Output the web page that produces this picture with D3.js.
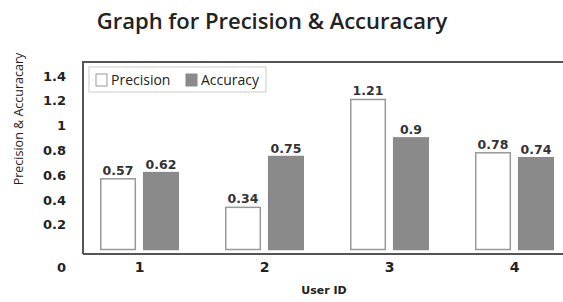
<!doctype html>
<meta charset="utf-8">
<title>Graph for Precision & Accuracary</title>
<script src="https://cdn.jsdelivr.net/npm/d3@7"></script>
<style>
  body { margin: 0; background: #fff; }
  svg text { fill: #222; }
</style>
<body>
<svg id="chart" width="563" height="302"></svg>
<script>

// data
var users = ["1", "2", "3", "4"];
var seriesNames = ["Precision", "Accuracy"];
var precision = [0.57, 0.34, 1.21, 0.78];
var accuracy = [0.62, 0.75, 0.9, 0.74];
var yTicks = [0.2, 0.4, 0.6, 0.8, 1, 1.2, 1.4];

var svg = d3.select("#chart");

var x = d3.scaleBand()
    .domain(users)
    .range([37.5, 616.5])
    .paddingInner(0.368)
    .paddingOuter(0.5);

var xInner = d3.scaleBand()
    .domain(seriesNames)
    .range([0, x.bandwidth()])
    .paddingInner(0.16);

var y = d3.scaleLinear()
    .domain([0, 1.4])
    .range([249.5, 249.5 - 1.4 * 124]);

var colors = { Precision: "#fff", Accuracy: "#8a8a8a" };
var strokes = { Precision: "#999", Accuracy: "#8a8a8a" };

// title
svg.append("text")
    .attr("x", 272).attr("y", 29)
    .attr("text-anchor", "middle")
    .style("font-family", "Open Sans")
    .style("font-weight", "600")
    .style("font-size", "22px")
    .text("Graph for Precision & Accuracary");

// y axis title
svg.append("text")
    .attr("transform", "translate(23,119) rotate(-90)")
    .attr("text-anchor", "middle")
    .style("font-family", "Open Sans")
    .style("font-size", "12.5px")
    .text("Precision & Accuracary");

// y tick labels (no tick marks)
var yAxis = svg.append("g")
    .attr("transform", "translate(66,0)")
    .call(d3.axisLeft(y).tickValues(yTicks).tickSize(0).tickPadding(0)
        .tickFormat(function(d) { return String(d); }));
yAxis.select(".domain").remove();
yAxis.selectAll("text")
    .style("font-family", "DejaVu Sans")
    .style("font-weight", "bold")
    .style("font-size", "13px")
    .attr("fill", "#222");

// the "0" sits down by the user ids
svg.append("text")
    .attr("x", 66).attr("y", 272)
    .attr("text-anchor", "end")
    .style("font-family", "DejaVu Sans")
    .style("font-weight", "bold")
    .style("font-size", "13px")
    .text("0");

// frame
var frame = svg.append("g").attr("stroke", "#555").attr("stroke-width", 2).attr("fill", "none");
frame.append("path").attr("d", "M83,254 V62 H563");
frame.append("path").attr("d", "M83,254 H563");

// bars
var rows = users.map(function(u, i) {
  return { user: u, values: [
    { key: "Precision", value: precision[i] },
    { key: "Accuracy", value: accuracy[i] }
  ] };
});

var groups = svg.selectAll("g.group")
    .data(rows)
    .enter().append("g")
    .attr("class", "group")
    .attr("transform", function(d) { return "translate(" + x(d.user) + ",0)"; });

groups.selectAll("rect")
    .data(function(d) { return d.values; })
    .enter().append("rect")
    .attr("x", function(d) { return xInner(d.key) + 0.75; })
    .attr("width", xInner.bandwidth() - 1.5)
    .attr("y", function(d) { return y(d.value); })
    .attr("height", function(d) { return y(0) - y(d.value); })
    .attr("fill", function(d) { return colors[d.key]; })
    .attr("stroke", function(d) { return strokes[d.key]; })
    .attr("stroke-width", 1.5);

groups.selectAll("text.val")
    .data(function(d) { return d.values; })
    .enter().append("text")
    .attr("class", "val")
    .attr("x", function(d) { return xInner(d.key) + xInner.bandwidth() / 2; })
    .attr("y", function(d) { return y(d.value) - 4; })
    .attr("text-anchor", "middle")
    .style("font-family", "DejaVu Sans")
    .style("font-weight", "bold")
    .style("font-size", "12.5px")
    .style("fill", "#333")
    .text(function(d) { return d.value; });

// x labels
svg.selectAll("text.xlab")
    .data(users)
    .enter().append("text")
    .attr("class", "xlab")
    .attr("x", function(d) { return x(d) + x.bandwidth() / 2; })
    .attr("y", 272)
    .attr("text-anchor", "middle")
    .style("font-family", "DejaVu Sans")
    .style("font-weight", "bold")
    .style("font-size", "14px")
    .text(function(d) { return d; });

svg.append("text")
    .attr("x", 324).attr("y", 294)
    .attr("text-anchor", "middle")
    .style("font-family", "DejaVu Sans")
    .style("font-weight", "bold")
    .style("font-size", "11px")
    .text("User ID");

// legend
var legend = svg.append("g");
legend.append("rect")
    .attr("x", 89).attr("y", 67).attr("width", 177).attr("height", 25)
    .attr("fill", "#fff").attr("stroke", "#ccc").attr("stroke-width", 1);

var legendX = { Precision: 96, Accuracy: 186 };
seriesNames.forEach(function(name) {
  legend.append("rect")
      .attr("x", legendX[name]).attr("y", 74).attr("width", 11).attr("height", 12)
      .attr("fill", colors[name]).attr("stroke", strokes[name]).attr("stroke-width", 1);
  legend.append("text")
      .attr("x", legendX[name] + 15).attr("y", 85)
      .style("font-family", "Open Sans")
      .style("font-size", "14px")
      .text(name);
});

</script>
</body>
